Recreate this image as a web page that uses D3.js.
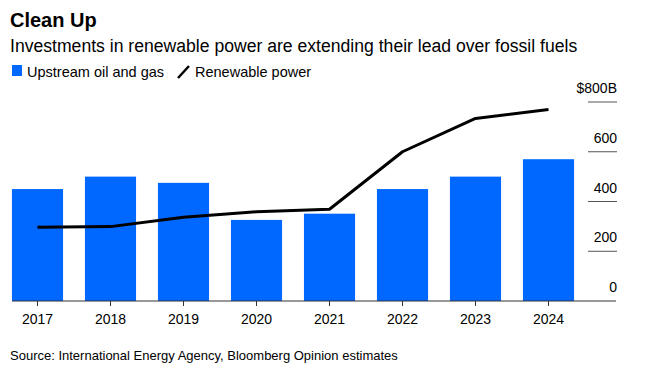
<!DOCTYPE html>
<html>
<head>
<meta charset="utf-8">
<script src="https://cdn.jsdelivr.net/npm/d3@7"></script>
<style>
  body { margin: 0; background: #fff; }
  svg { font-family: "Liberation Sans", Arial, sans-serif; }
</style>
</head>
<body>
<svg id="chart" width="654" height="378"></svg>
<script>
// chart data
var years = ["2017", "2018", "2019", "2020", "2021", "2022", "2023", "2024"];
var upstream = [450, 500, 475, 326, 351, 450, 500, 570];
var renewable = [296, 299, 337, 359, 369, 600, 734, 770];
var yTicks = [0, 200, 400, 600, 800];

var blue = "#0068ff";

var svg = d3.select("#chart");

// titles
svg.append("text")
    .attr("x", 10).attr("y", 27)
    .attr("font-size", 20).attr("font-weight", "bold")
    .attr("fill", "#000")
    .text("Clean Up");

svg.append("text")
    .attr("x", 10).attr("y", 52)
    .attr("font-size", 17.6)
    .attr("fill", "#000")
    .text("Investments in renewable power are extending their lead over fossil fuels");

// legend
svg.append("rect")
    .attr("x", 12).attr("y", 65).attr("width", 10).attr("height", 11)
    .attr("fill", blue);
svg.append("text")
    .attr("x", 27).attr("y", 77).attr("font-size", 14.5)
    .text("Upstream oil and gas");
svg.append("line")
    .attr("x1", 178).attr("y1", 78).attr("x2", 189).attr("y2", 66)
    .attr("stroke", "#000").attr("stroke-width", 2.5);
svg.append("text")
    .attr("x", 195).attr("y", 77).attr("font-size", 14.5)
    .text("Renewable power");

// scales
var x = d3.scaleBand()
    .domain(years)
    .range([1, 585])
    .paddingInner(0.3)
    .paddingOuter(0.15);

var y = d3.scaleLinear()
    .domain([0, 800])
    .range([301, 102]);

// bars
svg.selectAll("rect.bar")
    .data(upstream)
    .enter().append("rect")
    .attr("class", "bar")
    .attr("x", function(d, i) { return x(years[i]); })
    .attr("y", function(d) { return y(d); })
    .attr("width", x.bandwidth())
    .attr("height", function(d) { return y(0) - y(d); })
    .attr("fill", blue);

// right axis ticks
var tickG = svg.selectAll("g.ytick")
    .data(yTicks.filter(function(d) { return d > 0; }))
    .enter().append("g")
    .attr("class", "ytick");

tickG.append("line")
    .attr("x1", 588).attr("x2", 617)
    .attr("y1", function(d) { return y(d); })
    .attr("y2", function(d) { return y(d); })
    .attr("stroke", "#555").attr("stroke-width", 1);

svg.selectAll("text.ylab")
    .data(yTicks)
    .enter().append("text")
    .attr("class", "ylab")
    .attr("x", 617)
    .attr("y", function(d) { return y(d) - 9; })
    .attr("text-anchor", "end")
    .attr("font-size", 14)
    .text(function(d) { return d == 800 ? "$800B" : d; });

// x axis
var xAxis = svg.append("g")
    .attr("transform", "translate(0," + y(0) + ")")
    .call(d3.axisBottom(x).tickSize(5).tickPadding(8).tickSizeOuter(0));
xAxis.select(".domain").remove();
xAxis.selectAll("line").attr("stroke", "#333");
xAxis.selectAll("text")
    .attr("font-size", 14)
    .attr("font-family", "Liberation Sans, Arial, sans-serif")
    .attr("fill", "#000");

svg.append("line")
    .attr("x1", 12).attr("x2", 616)
    .attr("y1", y(0)).attr("y2", y(0))
    .attr("stroke", "#333").attr("stroke-width", 1);

// renewable line
var line = d3.line()
    .x(function(d, i) { return x(years[i]) + x.bandwidth() / 2; })
    .y(function(d) { return y(d); });

svg.append("path")
    .datum(renewable)
    .attr("d", line)
    .attr("fill", "none")
    .attr("stroke", "#000")
    .attr("stroke-width", 3)
    .attr("stroke-linejoin", "round");

// source
svg.append("text")
    .attr("x", 10).attr("y", 360)
    .attr("font-size", 13)
    .text("Source: International Energy Agency, Bloomberg Opinion estimates");
</script>
</body>
</html>
